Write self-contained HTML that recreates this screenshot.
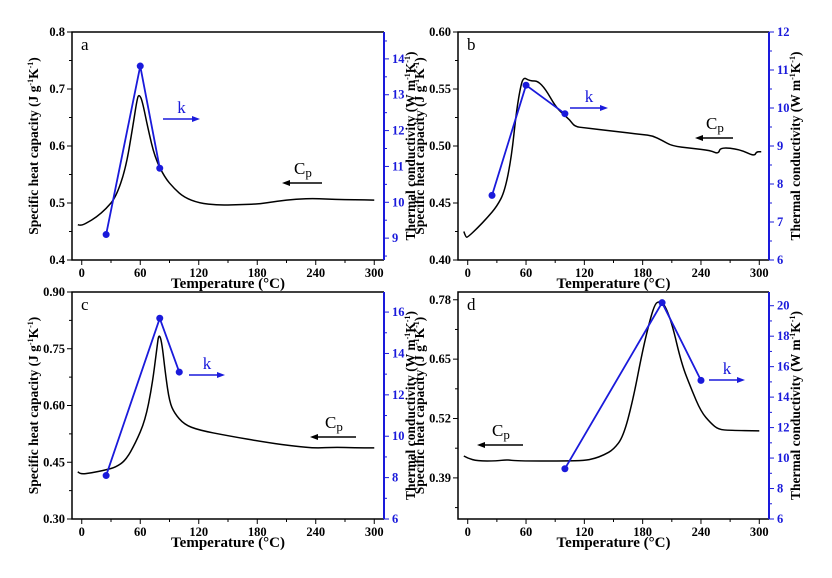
<!DOCTYPE html>
<html><head><meta charset="utf-8">
<style>
body{margin:0;background:#fff;}
svg{display:block;font-family:"Liberation Serif",serif;}
</style></head>
<body>
<svg id="chart" width="832" height="578" viewBox="0 0 832 578"></svg>
<script>
// ---- data ----
const aTemp=[-4,-1,5,15,25,35,45,52,57,59,62,68,75,85,95,105,120,140,160,180,200,220,240,260,280,300];
const aCp=[0.462,0.46,0.465,0.475,0.49,0.51,0.56,0.63,0.685,0.69,0.68,0.63,0.58,0.545,0.525,0.51,0.5,0.496,0.497,0.498,0.503,0.507,0.508,0.506,0.506,0.505];
const aKTemp=[25,60,80];
const aK=[9.1,13.8,10.95];
const bTemp=[-4,-2,0,10,20,30,38,45,50,55,58,62,66,72,80,90,98,105,110,120,150,180,190,200,210,230,250,258,260,280,295,297,302];
const bCp=[0.425,0.42,0.42,0.428,0.437,0.447,0.46,0.49,0.53,0.555,0.56,0.558,0.557,0.557,0.55,0.535,0.528,0.523,0.517,0.516,0.513,0.51,0.509,0.505,0.5,0.498,0.496,0.493,0.499,0.497,0.491,0.495,0.495];
const bKTemp=[25,60,100];
const bK=[7.7,10.6,9.85];
const cTemp=[-4,-2,10,25,35,45,55,65,72,77,79,82,86,90,95,105,120,150,190,220,240,260,280,300];
const cCp=[0.425,0.418,0.422,0.43,0.437,0.455,0.5,0.56,0.65,0.75,0.79,0.77,0.68,0.61,0.58,0.55,0.535,0.52,0.502,0.492,0.487,0.49,0.488,0.488];
const cKTemp=[25,80,100];
const cK=[8.1,15.7,13.1];
const dTemp=[-4,0,10,30,40,50,100,120,130,140,150,160,170,180,188,193,197,202,210,220,230,240,250,258,270,300];
const dCp=[0.438,0.433,0.427,0.427,0.43,0.427,0.427,0.428,0.432,0.44,0.452,0.48,0.56,0.67,0.74,0.772,0.776,0.772,0.73,0.64,0.585,0.535,0.51,0.496,0.494,0.493];
const dKTemp=[100,200,240];
const dK=[9.3,20.2,15.1];
const xTicks=[0,60,120,180,240,300];
const aLeftTicks=[0.4,0.5,0.6,0.7,0.8];
const aRightTicks=[9,10,11,12,13,14];
const bLeftTicks=[0.40,0.45,0.50,0.55,0.60];
const bRightTicks=[6,7,8,9,10,11,12];
const cLeftTicks=[0.30,0.45,0.60,0.75,0.90];
const cRightTicks=[6,8,10,12,14,16];
const dLeftTicks=[0.39,0.52,0.65,0.78];
const dRightTicks=[6,8,10,12,14,16,18,20];

const NS="http://www.w3.org/2000/svg";
const svg=document.getElementById('chart');
function mk(tag,attrs,parent){const e=document.createElementNS(NS,tag);for(const k in attrs)e.setAttribute(k,attrs[k]);(parent||svg).appendChild(e);return e;}
function smooth(pts){
 let d='M'+pts[0][0]+','+pts[0][1];
 for(let i=1;i<pts.length-1;i++){
  const mx=(pts[i][0]+pts[i+1][0])/2,my=(pts[i][1]+pts[i+1][1])/2;
  d+=' Q'+pts[i][0]+','+pts[i][1]+' '+mx+','+my;
 }
 const l=pts[pts.length-1];d+=' L'+l[0]+','+l[1];return d;
}

const panels=[
 {id:'a',L:72,R:384,T:32,B:260,y0:0.4,y1:0.8,r0:8.39,r1:14.75,temp:aTemp,cp:aCp,kt:aKTemp,k:aK,lt:aLeftTicks,rt:aRightTicks,dec:1,
  kArrow:[163,200,119],cpArrow:[322,282,183]},
 {id:'b',L:458,R:769,T:32,B:260,y0:0.40,y1:0.60,r0:6,r1:12,temp:bTemp,cp:bCp,kt:bKTemp,k:bK,lt:bLeftTicks,rt:bRightTicks,dec:2,
  kArrow:[570,608,108],cpArrow:[733,695,138]},
 {id:'c',L:72,R:384,T:292,B:519,y0:0.30,y1:0.90,r0:6,r1:16.97,temp:cTemp,cp:cCp,kt:cKTemp,k:cK,lt:cLeftTicks,rt:cRightTicks,dec:2,
  kArrow:[189,225,375],cpArrow:[356,310,437]},
 {id:'d',L:458,R:769,T:292,B:519,y0:0.30,y1:0.797,r0:6,r1:20.9,temp:dTemp,cp:dCp,kt:dKTemp,k:dK,lt:dLeftTicks,rt:dRightTicks,dec:2,
  kArrow:[709,745,380],cpArrow:[523,477,445]}
];

panels.forEach(p=>{
 const g=mk('g',{});
 
 
 const X=v=>p.L+(v+10)/320*(p.R-p.L);
 const Y=v=>p.B-(v-p.y0)/(p.y1-p.y0)*(p.B-p.T);
 const YR=v=>p.B-(v-p.r0)/(p.r1-p.r0)*(p.B-p.T);
 const fr=mk('path',{d:`M${p.R},${p.T}H${p.L}V${p.B}H${p.R}`,fill:'none',stroke:'#000','stroke-width':1.5},g);
 
 
 for(let v=0;v<=300;v+=30){
  const major=v%60===0;
  mk('line',{x1:X(v),x2:X(v),y1:p.B,y2:p.B+(major?5:3),stroke:'#000','stroke-width':1},g);
 }
 xTicks.forEach(v=>{
  const t=mk('text',{x:X(v),y:p.B+17,'text-anchor':'middle','font-size':12.5,'font-weight':'bold'},g);
  t.textContent=v;
  
  
 });
 const xt=mk('text',{x:(p.L+p.R)/2,y:p.B+28,'text-anchor':'middle','font-size':15,'font-weight':'bold'},g);
 xt.textContent='Temperature (°C)';
 
 
 const step=p.lt[1]-p.lt[0];
 for(let v=p.lt[0]-step/2;v<=p.y1+1e-9;v+=step/2){
  if(v<p.y0-1e-9)continue;
  const major=Math.abs(((v-p.lt[0])/step)-Math.round((v-p.lt[0])/step))<1e-6;
  mk('line',{x1:p.L,x2:p.L-(major?5:3),y1:Y(v),y2:Y(v),stroke:'#000','stroke-width':1},g);
 }
 p.lt.forEach(v=>{
  const t=mk('text',{x:p.L-7,y:Y(v)+4,'text-anchor':'end','font-size':12.5,'font-weight':'bold'},g);
  t.textContent=v.toFixed(p.dec);
  
  
 });
 const lt=mk('text',{transform:`translate(${p.L-34},${(p.T+p.B)/2}) rotate(-90)`,'text-anchor':'middle','font-size':13.5,'font-weight':'bold'},g);
 lt.innerHTML='Specific heat capacity (J g<tspan dy="-5" font-size="8">-1</tspan><tspan dy="5">K</tspan><tspan dy="-5" font-size="8">-1</tspan><tspan dy="5">)</tspan>';
 
 
 mk('line',{x1:p.R,x2:p.R,y1:p.T,y2:p.B,stroke:'#1a1adb','stroke-width':2},g);
 const rs=p.rt[1]-p.rt[0];
 for(let v=p.rt[0]-rs/2;v<=p.r1+1e-9;v+=rs/2){
  if(v<p.r0-1e-9)continue;
  const major=Math.abs(((v-p.rt[0])/rs)-Math.round((v-p.rt[0])/rs))<1e-6;
  mk('line',{x1:p.R,x2:p.R+(major?5:3),y1:YR(v),y2:YR(v),stroke:'#1a1adb','stroke-width':1},g);
 }
 p.rt.forEach(v=>{
  const t=mk('text',{x:p.R+8,y:YR(v)+4,'font-size':12.5,'font-weight':'bold',fill:'#1a1adb'},g);
  t.textContent=v;
  
  
 });
 const rtt=mk('text',{transform:`translate(${p.R+31},${(p.T+p.B)/2}) rotate(-90)`,'text-anchor':'middle','font-size':13.5,'font-weight':'bold'},g);
 rtt.innerHTML='Thermal conductivity (W m<tspan dy="-5" font-size="8">-1</tspan><tspan dy="5">K</tspan><tspan dy="-5" font-size="8">-1</tspan><tspan dy="5">)</tspan>';
 
 
 const cpl=mk('path',{d:smooth(p.temp.map((t,i)=>[X(t),Y(p.cp[i])])),fill:'none',stroke:'#000','stroke-width':1.5},g);
 
 
 const kl=mk('polyline',{points:p.kt.map((t,i)=>X(t)+','+YR(p.k[i])).join(' '),fill:'none',stroke:'#1a1adb','stroke-width':1.8},g);
 
 
 p.kt.forEach((t,i)=>{
  const c=mk('circle',{cx:X(t),cy:YR(p.k[i]),r:3.5,fill:'#1a1adb'},g);
  
  
 });
 const pl=mk('text',{x:p.L+9,y:p.T+18,'font-size':17},g);
 pl.textContent=p.id;
 
 
 const [kx1,kx2,ky]=p.kArrow;
 mk('line',{x1:kx1,x2:kx2-6,y1:ky,y2:ky,stroke:'#1a1adb','stroke-width':1.5},g);
 mk('path',{d:`M${kx2},${ky}l-8,-3v6z`,fill:'#1a1adb'},g);
 const kt=mk('text',{x:(kx1+kx2)/2,y:ky-6,'text-anchor':'middle','font-size':17,fill:'#1a1adb'},g);
 kt.textContent='k';
 
 
 const [cx1,cx2,cy]=p.cpArrow;
 mk('line',{x1:cx1,x2:cx2+6,y1:cy,y2:cy,stroke:'#000','stroke-width':1.5},g);
 mk('path',{d:`M${cx2},${cy}l8,-3v6z`,fill:'#000'},g);
 const ct=mk('text',{x:(cx1+cx2)/2-8,y:cy-9,'font-size':17},g);
 ct.innerHTML='C<tspan font-size="13" dy="3">p</tspan>';
 
 
});
</script>
</body></html>
